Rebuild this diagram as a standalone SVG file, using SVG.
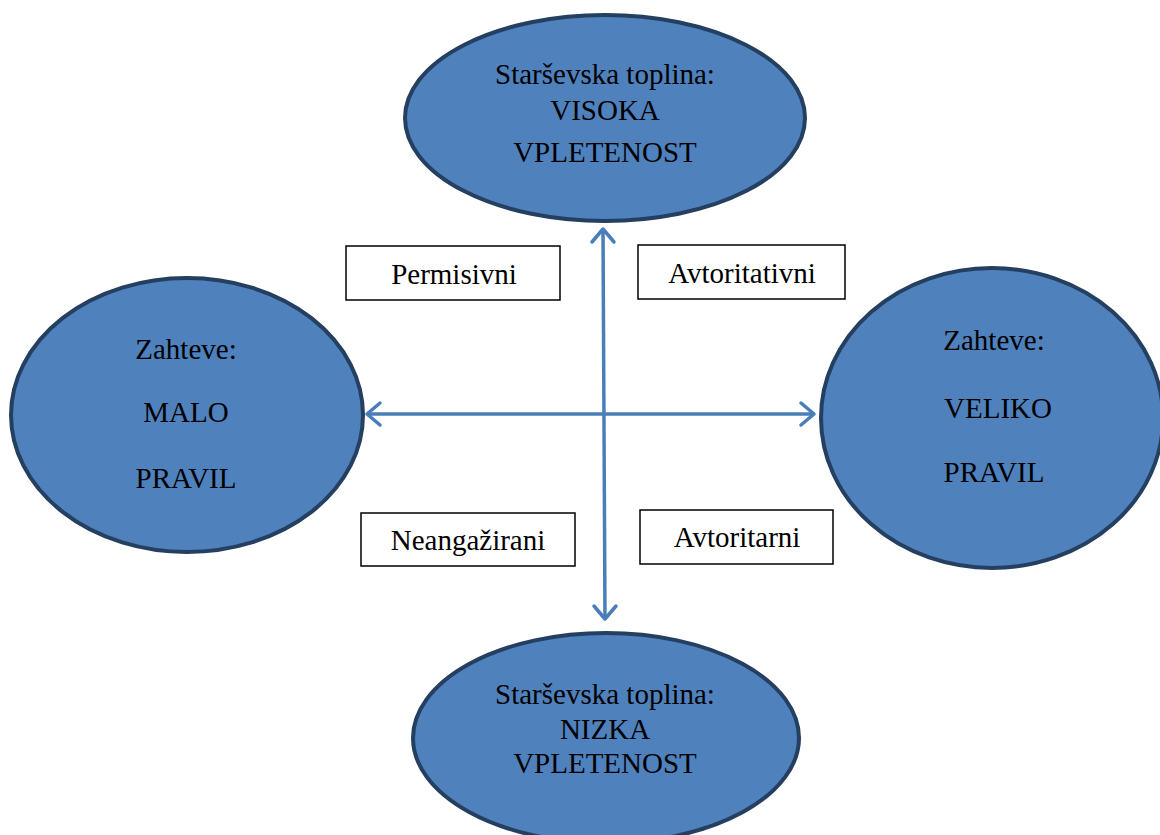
<svg xmlns="http://www.w3.org/2000/svg" width="1160" height="835" viewBox="0 0 1160 835">
<style>
.node ellipse{fill:#4f81bd;stroke:#243f60;stroke-width:4}
.lbl rect{fill:#fff;stroke:#000;stroke-width:1.5}
text{font-family:"Liberation Serif","Times New Roman",serif;font-size:29px;fill:#000;text-anchor:middle}
.conn line{stroke:#4a7ebb;stroke-width:3.5;fill:none}
.conn path{stroke:#4a7ebb;stroke-width:3.5;fill:none;stroke-linecap:round;stroke-linejoin:round}
</style>
<rect width="1160" height="835" fill="#fff"/>
<g id="top" class="node">
<ellipse cx="605" cy="118" rx="200" ry="103"/>
<text x="605" y="84">Starševska toplina:</text>
<text x="605" y="120">VISOKA</text>
<text x="605" y="162">VPLETENOST</text>
</g>
<g id="left" class="node">
<ellipse cx="187" cy="415" rx="176" ry="137"/>
<text x="186" y="359">Zahteve:</text>
<text x="186" y="422">MALO</text>
<text x="186" y="488">PRAVIL</text>
</g>
<g id="right" class="node">
<ellipse cx="992" cy="418" rx="171" ry="150"/>
<text x="994" y="350">Zahteve:</text>
<text x="998" y="418">VELIKO</text>
<text x="994" y="482">PRAVIL</text>
</g>
<g id="bottom" class="node">
<ellipse cx="606" cy="738" rx="193" ry="105"/>
<text x="605" y="704">Starševska toplina:</text>
<text x="605" y="739">NIZKA</text>
<text x="605" y="773">VPLETENOST</text>
</g>
<g id="connectors" class="conn">
<line x1="603" y1="230" x2="605" y2="618"/>
<path d="M592 242 L603 229 L614 242"/>
<path d="M594 606 L605 619 L616 606"/>
<line x1="367" y1="414" x2="814" y2="414"/>
<path d="M380 403 L367 414 L380 425"/>
<path d="M801 403 L814 414 L801 425"/>
</g>
<g id="permisivni" class="lbl">
<rect x="346" y="246" width="214" height="54"/>
<text x="454" y="284">Permisivni</text>
</g>
<g id="avtoritativni" class="lbl">
<rect x="638" y="245" width="207" height="54"/>
<text x="742" y="283">Avtoritativni</text>
</g>
<g id="neangazirani" class="lbl">
<rect x="361" y="513" width="214" height="53"/>
<text x="468" y="550">Neangažirani</text>
</g>
<g id="avtoritarni" class="lbl">
<rect x="640" y="510" width="193" height="54"/>
<text x="737" y="547">Avtoritarni</text>
</g>
</svg>
